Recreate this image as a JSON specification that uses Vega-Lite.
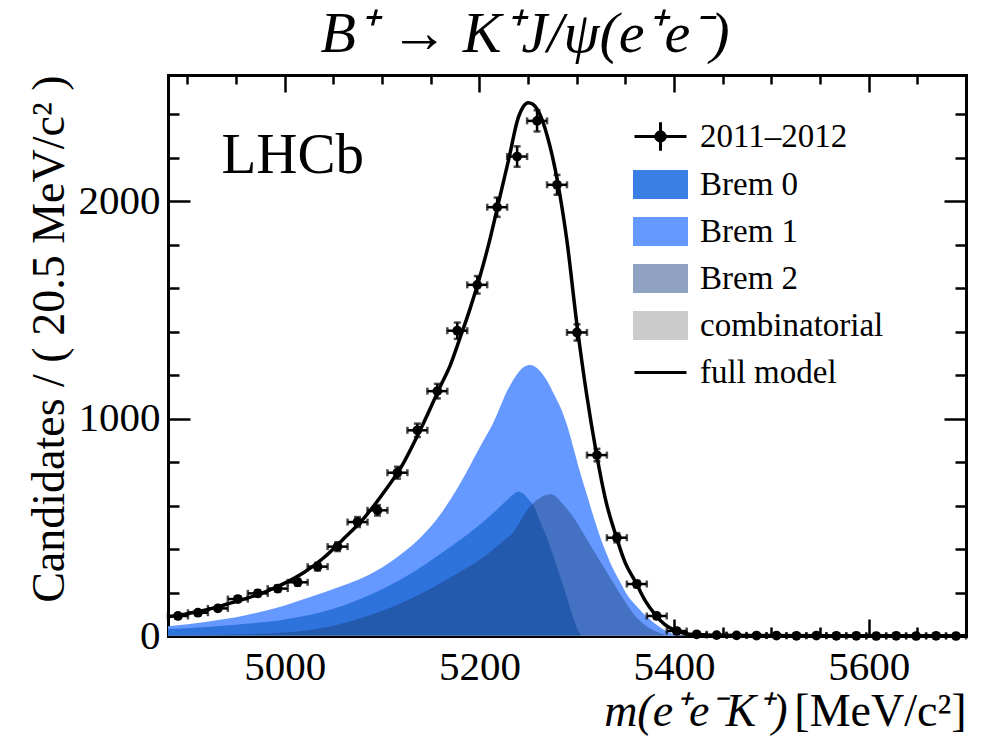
{
  "$schema": "https://vega.github.io/schema/vega-lite/v6.json",
  "width": 798,
  "height": 561,
  "autosize": {"type": "none"},
  "padding": {"left": 168, "top": 75, "right": 16, "bottom": 106},
  "background": "white",
  "title": {"text": "B⁺ → K⁺J/ψ(e⁺e⁻)", "font": "Liberation Serif", "fontSize": 58, "fontStyle": "italic", "fontWeight": "normal", "color": "#000", "anchor": "middle", "frame": "group", "baseline": "alphabetic", "offset": 17, "dx": -42, "dy": 53},
  "config": {
    "view": {"stroke": null},
    "axis": {"labelFont": "Liberation Serif", "labelFontSize": 41, "labelColor": "#000", "titleFont": "Liberation Serif", "titleFontSize": 46, "titleFontWeight": "normal", "titleColor": "#000", "tickColor": "#000", "domainColor": "#000", "domainWidth": 3, "tickWidth": 2.5, "grid": false, "zindex": 1, "labelFlush": false, "labelOverlap": false, "domainCap": "square"}
  },
  "datasets": {
    "pts": [
      {"m": 4890.25, "x0": 4880, "x1": 4900.5, "n": 92, "e": 9.6}, {"m": 4910.75, "x0": 4900.5, "x1": 4921, "n": 107, "e": 10.3},
      {"m": 4931.25, "x0": 4921, "x1": 4941.5, "n": 127, "e": 11.3}, {"m": 4951.75, "x0": 4941.5, "x1": 4962, "n": 170, "e": 13},
      {"m": 4972.25, "x0": 4962, "x1": 4982.5, "n": 196, "e": 14}, {"m": 4992.75, "x0": 4982.5, "x1": 5003, "n": 218, "e": 14.8},
      {"m": 5013.25, "x0": 5003, "x1": 5023.5, "n": 247, "e": 15.7}, {"m": 5033.75, "x0": 5023.5, "x1": 5044, "n": 319, "e": 17.9},
      {"m": 5054.25, "x0": 5044, "x1": 5064.5, "n": 411, "e": 20.3}, {"m": 5074.75, "x0": 5064.5, "x1": 5085, "n": 524, "e": 22.9},
      {"m": 5095.25, "x0": 5085, "x1": 5105.5, "n": 578, "e": 24}, {"m": 5115.75, "x0": 5105.5, "x1": 5126, "n": 751, "e": 27.4},
      {"m": 5136.25, "x0": 5126, "x1": 5146.5, "n": 946, "e": 30.8}, {"m": 5156.75, "x0": 5146.5, "x1": 5167, "n": 1126, "e": 33.6},
      {"m": 5177.25, "x0": 5167, "x1": 5187.5, "n": 1404, "e": 37.5}, {"m": 5197.75, "x0": 5187.5, "x1": 5208, "n": 1615, "e": 40.2},
      {"m": 5218.25, "x0": 5208, "x1": 5228.5, "n": 1972, "e": 44.4}, {"m": 5238.75, "x0": 5228.5, "x1": 5249, "n": 2205, "e": 47},
      {"m": 5259.25, "x0": 5249, "x1": 5269.5, "n": 2369, "e": 48.7}, {"m": 5279.75, "x0": 5269.5, "x1": 5290, "n": 2075, "e": 45.6},
      {"m": 5300.25, "x0": 5290, "x1": 5310.5, "n": 1396, "e": 37.4}, {"m": 5320.75, "x0": 5310.5, "x1": 5331, "n": 832, "e": 28.8},
      {"m": 5341.25, "x0": 5331, "x1": 5351.5, "n": 452, "e": 21.3}, {"m": 5361.75, "x0": 5351.5, "x1": 5372, "n": 239, "e": 15.5},
      {"m": 5382.25, "x0": 5372, "x1": 5392.5, "n": 92, "e": 9.6}, {"m": 5402.75, "x0": 5392.5, "x1": 5413, "n": 23, "e": 4.8},
      {"m": 5423.25, "x0": 5413, "x1": 5433.5, "n": 8, "e": 2.8}, {"m": 5443.75, "x0": 5433.5, "x1": 5454, "n": 4, "e": 2},
      {"m": 5464.25, "x0": 5454, "x1": 5474.5, "n": 3, "e": 1.7}, {"m": 5484.75, "x0": 5474.5, "x1": 5495, "n": 2, "e": 1.4},
      {"m": 5505.25, "x0": 5495, "x1": 5515.5, "n": 2, "e": 1.4}, {"m": 5525.75, "x0": 5515.5, "x1": 5536, "n": 1, "e": 1},
      {"m": 5546.25, "x0": 5536, "x1": 5556.5, "n": 2, "e": 1.4}, {"m": 5566.75, "x0": 5556.5, "x1": 5577, "n": 1, "e": 1},
      {"m": 5587.25, "x0": 5577, "x1": 5597.5, "n": 1, "e": 1}, {"m": 5607.75, "x0": 5597.5, "x1": 5618, "n": 0, "e": 1},
      {"m": 5628.25, "x0": 5618, "x1": 5638.5, "n": 1, "e": 1}, {"m": 5648.75, "x0": 5638.5, "x1": 5659, "n": 0, "e": 1},
      {"m": 5669.25, "x0": 5659, "x1": 5679.5, "n": 1, "e": 1}, {"m": 5689.75, "x0": 5679.5, "x1": 5700, "n": 0, "e": 1}
    ],
    "model": [
      {"m": 4880, "v": 88}, {"m": 4900, "v": 103}, {"m": 4920, "v": 121}, {"m": 4940, "v": 146}, {"m": 4960, "v": 172}, {"m": 4980, "v": 203},
      {"m": 5000, "v": 243}, {"m": 5020, "v": 293}, {"m": 5040, "v": 360}, {"m": 5060, "v": 445}, {"m": 5080, "v": 535}, {"m": 5100, "v": 650},
      {"m": 5120, "v": 780}, {"m": 5140, "v": 955}, {"m": 5160, "v": 1150}, {"m": 5170, "v": 1245}, {"m": 5180, "v": 1370}, {"m": 5190, "v": 1500},
      {"m": 5200, "v": 1645}, {"m": 5210, "v": 1810}, {"m": 5220, "v": 2000}, {"m": 5230, "v": 2190}, {"m": 5240, "v": 2385}, {"m": 5245, "v": 2434},
      {"m": 5250, "v": 2452}, {"m": 5255, "v": 2445}, {"m": 5260, "v": 2418}, {"m": 5270, "v": 2295}, {"m": 5280, "v": 2097}, {"m": 5290, "v": 1815},
      {"m": 5300, "v": 1440}, {"m": 5310, "v": 1116}, {"m": 5320, "v": 845}, {"m": 5330, "v": 620}, {"m": 5340, "v": 465}, {"m": 5350, "v": 335},
      {"m": 5360, "v": 252}, {"m": 5370, "v": 165}, {"m": 5380, "v": 102}, {"m": 5390, "v": 55}, {"m": 5400, "v": 28}, {"m": 5410, "v": 13},
      {"m": 5420, "v": 7}, {"m": 5440, "v": 3}, {"m": 5480, "v": 2}, {"m": 5600, "v": 1.5}, {"m": 5700, "v": 1.2}
    ],
    "brem1": [
      {"m": 4880, "v": 45}, {"m": 4900, "v": 54}, {"m": 4920, "v": 65}, {"m": 4940, "v": 79}, {"m": 4960, "v": 96}, {"m": 4980, "v": 116},
      {"m": 5000, "v": 140}, {"m": 5020, "v": 170}, {"m": 5040, "v": 200}, {"m": 5060, "v": 232}, {"m": 5080, "v": 268}, {"m": 5100, "v": 315},
      {"m": 5120, "v": 378}, {"m": 5140, "v": 455}, {"m": 5160, "v": 560}, {"m": 5180, "v": 700}, {"m": 5200, "v": 865}, {"m": 5214, "v": 978},
      {"m": 5230, "v": 1140}, {"m": 5240, "v": 1212}, {"m": 5246, "v": 1238}, {"m": 5252, "v": 1246}, {"m": 5258, "v": 1236}, {"m": 5264, "v": 1210},
      {"m": 5270, "v": 1170}, {"m": 5276, "v": 1118}, {"m": 5283, "v": 1054}, {"m": 5290, "v": 970}, {"m": 5296, "v": 875}, {"m": 5303, "v": 760},
      {"m": 5310, "v": 656}, {"m": 5317, "v": 553}, {"m": 5324, "v": 457}, {"m": 5331, "v": 375}, {"m": 5338, "v": 303}, {"m": 5345, "v": 245},
      {"m": 5351, "v": 196}, {"m": 5362, "v": 135}, {"m": 5372, "v": 89}, {"m": 5385, "v": 43}, {"m": 5395, "v": 16}, {"m": 5405, "v": 3},
      {"m": 5420, "v": 0}, {"m": 5700, "v": 0}
    ],
    "brem0": [
      {"m": 4880, "v": 32}, {"m": 4900, "v": 36}, {"m": 4920, "v": 41}, {"m": 4940, "v": 48}, {"m": 4960, "v": 56}, {"m": 4980, "v": 64},
      {"m": 5000, "v": 76}, {"m": 5020, "v": 92}, {"m": 5040, "v": 113}, {"m": 5060, "v": 140}, {"m": 5080, "v": 175}, {"m": 5100, "v": 215},
      {"m": 5120, "v": 262}, {"m": 5146, "v": 334}, {"m": 5160, "v": 378}, {"m": 5180, "v": 441}, {"m": 5200, "v": 510}, {"m": 5214, "v": 564},
      {"m": 5226, "v": 615}, {"m": 5234, "v": 648}, {"m": 5240, "v": 663}, {"m": 5245, "v": 655}, {"m": 5250, "v": 630}, {"m": 5256, "v": 595},
      {"m": 5262, "v": 530}, {"m": 5269, "v": 457}, {"m": 5276, "v": 368}, {"m": 5283, "v": 273}, {"m": 5290, "v": 175}, {"m": 5296, "v": 89},
      {"m": 5302, "v": 20}, {"m": 5306, "v": 0}, {"m": 5700, "v": 0}
    ],
    "brem2": [
      {"m": 4880, "v": 2}, {"m": 4920, "v": 4}, {"m": 4960, "v": 8}, {"m": 5000, "v": 16}, {"m": 5040, "v": 38}, {"m": 5080, "v": 85},
      {"m": 5111, "v": 135}, {"m": 5146, "v": 208}, {"m": 5180, "v": 295}, {"m": 5200, "v": 350}, {"m": 5220, "v": 420}, {"m": 5235, "v": 480},
      {"m": 5250, "v": 585}, {"m": 5262, "v": 635}, {"m": 5274, "v": 652}, {"m": 5285, "v": 610}, {"m": 5296, "v": 549}, {"m": 5307, "v": 470},
      {"m": 5317, "v": 395}, {"m": 5328, "v": 315}, {"m": 5338, "v": 242}, {"m": 5348, "v": 170}, {"m": 5358, "v": 104}, {"m": 5368, "v": 58},
      {"m": 5379, "v": 26}, {"m": 5390, "v": 6}, {"m": 5398, "v": 0}, {"m": 5700, "v": 0}
    ],
    "comb": [{"m": 4880, "v": 1.5}, {"m": 5700, "v": 1.5}],
    "legend": [{"item": "2011–2012"}, {"item": "Brem 0"}, {"item": "Brem 1"}, {"item": "Brem 2"}, {"item": "combinatorial"}, {"item": "full model"}]
  },
  "resolve": {"axis": {"x": "independent", "y": "independent"}},
  "layer": [
    {
      "data": {"name": "brem1"},
      "mark": {"type": "area", "color": "#6699ff", "interpolate": "monotone"},
      "encoding": {
        "x": {"field": "m", "type": "quantitative", "scale": {"domain": [4880, 5700], "nice": false, "zero": false},
          "axis": {"orient": "bottom", "values": [5000, 5200, 5400, 5600], "format": "d", "tickSize": -17, "labelPadding": 28, "domain": true, "title": "[MeV/c²]", "titleX": 798, "titleY": 89, "titleAlign": "right", "titleBaseline": "alphabetic"}},
        "y": {"field": "v", "type": "quantitative", "stack": null, "scale": {"domain": [0, 2580], "nice": false, "zero": false},
          "axis": {"orient": "left", "values": [0, 1000, 2000], "format": "d", "tickSize": -22, "labelPadding": 30, "domain": true, "title": "Candidates / ( 20.5 MeV/c² )", "titleAnchor": "end", "titlePadding": 5}}
      }
    },
    {
      "data": {"name": "brem0"},
      "mark": {"type": "area", "color": "#2e72dc", "interpolate": "monotone"},
      "encoding": {
        "x": {"field": "m", "type": "quantitative", "scale": {"domain": [4880, 5700], "nice": false, "zero": false},
          "axis": {"orient": "bottom", "values": [4900, 4950, 5050, 5100, 5150, 5250, 5300, 5350, 5450, 5500, 5550, 5650], "tickSize": -9, "labels": false, "domain": false, "title": "m(e⁺e⁻K⁺)", "titleFontStyle": "italic", "titleX": 619, "titleY": 89, "titleAlign": "right", "titleBaseline": "alphabetic"}},
        "y": {"field": "v", "type": "quantitative", "stack": null, "scale": {"domain": [0, 2580], "nice": false, "zero": false},
          "axis": {"orient": "left", "values": [200, 400, 600, 800, 1200, 1400, 1600, 1800, 2200, 2400], "tickSize": -11, "labels": false, "domain": false, "title": null}}
      }
    },
    {
      "data": {"name": "brem2"},
      "mark": {"type": "area", "color": "#163a6e", "fillOpacity": 0.42, "interpolate": "monotone"},
      "encoding": {
        "x": {"field": "m", "type": "quantitative", "scale": {"domain": [4880, 5700], "nice": false, "zero": false},
          "axis": {"orient": "top", "values": [5000, 5200, 5400, 5600], "tickSize": -17, "labels": false, "domain": true, "title": null}},
        "y": {"field": "v", "type": "quantitative", "stack": null, "scale": {"domain": [0, 2580], "nice": false, "zero": false},
          "axis": {"orient": "right", "values": [0, 1000, 2000], "tickSize": -22, "labels": false, "domain": true, "title": null}}
      }
    },
    {
      "data": {"name": "comb"},
      "mark": {"type": "area", "color": "#cccccc"},
      "encoding": {
        "x": {"field": "m", "type": "quantitative", "scale": {"domain": [4880, 5700], "nice": false, "zero": false},
          "axis": {"orient": "top", "values": [4900, 4950, 5050, 5100, 5150, 5250, 5300, 5350, 5450, 5500, 5550, 5650], "tickSize": -9, "labels": false, "domain": false, "title": null}},
        "y": {"field": "v", "type": "quantitative", "stack": null, "scale": {"domain": [0, 2580], "nice": false, "zero": false},
          "axis": {"orient": "right", "values": [200, 400, 600, 800, 1200, 1400, 1600, 1800, 2200, 2400], "tickSize": -11, "labels": false, "domain": false, "title": null}}
      }
    },
    {
      "data": {"name": "model"},
      "mark": {"type": "line", "color": "#000", "strokeWidth": 3.5, "interpolate": "monotone"},
      "encoding": {
        "x": {"field": "m", "type": "quantitative", "axis": null},
        "y": {"field": "v", "type": "quantitative", "axis": null}
      }
    },
    {
      "data": {"name": "pts"},
      "mark": {"type": "errorbar", "color": "#000", "thickness": 2.5, "ticks": {"size": 7, "thickness": 2.5}},
      "encoding": {
        "x": {"field": "x0", "type": "quantitative", "axis": null},
        "x2": {"field": "x1"},
        "y": {"field": "n", "type": "quantitative", "axis": null}
      }
    },
    {
      "data": {"name": "pts"},
      "mark": {"type": "errorbar", "color": "#000", "thickness": 2.5, "ticks": {"size": 7, "thickness": 2.5}},
      "encoding": {
        "x": {"field": "m", "type": "quantitative", "axis": null},
        "y": {"field": "n", "type": "quantitative", "axis": null},
        "yError": {"field": "e"}
      }
    },
    {
      "data": {"name": "pts"},
      "mark": {"type": "point", "shape": "circle", "filled": true, "color": "#000", "size": 95, "opacity": 1},
      "encoding": {
        "x": {"field": "m", "type": "quantitative", "axis": null},
        "y": {"field": "n", "type": "quantitative", "axis": null}
      }
    },
    {
      "data": {"values": [{"label": "LHCb"}]},
      "mark": {"type": "text", "font": "Liberation Serif", "fontSize": 57, "align": "left", "baseline": "alphabetic", "color": "#000"},
      "encoding": {
        "x": {"datum": 4935, "type": "quantitative", "axis": null},
        "y": {"datum": 2129, "type": "quantitative", "axis": null},
        "text": {"field": "label"}
      }
    },
    {
      "data": {"name": "legend"},
      "mark": {"type": "point", "opacity": 0, "filled": true, "strokeWidth": 3},
      "encoding": {
        "fill": {"field": "item", "type": "nominal",
          "scale": {"domain": ["2011–2012", "Brem 0", "Brem 1", "Brem 2", "combinatorial", "full model"], "range": ["#000000", "#3a80e4", "#6699ff", "#8fa2c2", "#cccccc", "transparent"]},
          "legend": {"title": null, "orient": "none", "legendX": 465, "legendY": 34, "padding": 0, "symbolSize": 2704, "symbolStrokeWidth": 3, "labelFont": "Liberation Serif", "labelFontSize": 33, "labelColor": "#000", "labelOffset": 12, "rowPadding": -6, "labelLimit": 0, "symbolOpacity": 1, "zindex": 2}},
        "stroke": {"field": "item", "type": "nominal",
          "scale": {"domain": ["2011–2012", "Brem 0", "Brem 1", "Brem 2", "combinatorial", "full model"], "range": ["#000000", "#3a80e4", "#6699ff", "#8fa2c2", "#cccccc", "#000000"]},
          "legend": {"title": null, "orient": "none", "legendX": 465, "legendY": 34, "padding": 0, "symbolSize": 2704, "symbolStrokeWidth": 3, "labelFont": "Liberation Serif", "labelFontSize": 33, "labelColor": "#000", "labelOffset": 12, "rowPadding": -6, "labelLimit": 0, "symbolOpacity": 1, "zindex": 2}},
        "shape": {"field": "item", "type": "nominal",
          "scale": {"domain": ["2011–2012", "Brem 0", "Brem 1", "Brem 2", "combinatorial", "full model"], "range": ["M-1,0H1M0,-0.55V0.55M-0.18,0A0.18,0.18,0,1,1,0.18,0A0.18,0.18,0,1,1,-0.18,0Z", "M-1,-0.5H1V0.5H-1Z", "M-1,-0.5H1V0.5H-1Z", "M-1,-0.5H1V0.5H-1Z", "M-1,-0.5H1V0.5H-1Z", "M-1,0H1"]},
          "legend": {"title": null, "orient": "none", "legendX": 465, "legendY": 34, "padding": 0, "symbolSize": 2704, "symbolStrokeWidth": 3, "labelFont": "Liberation Serif", "labelFontSize": 33, "labelColor": "#000", "labelOffset": 12, "rowPadding": -6, "labelLimit": 0, "symbolOpacity": 1, "zindex": 2}}
      }
    }
  ]
}
